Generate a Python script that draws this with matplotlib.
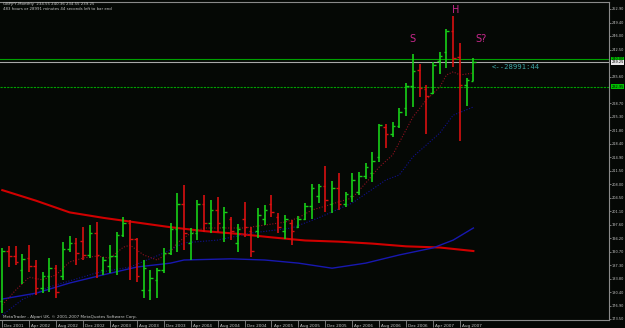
import numpy as np
import matplotlib
matplotlib.use("Agg")
import matplotlib.pyplot as plt
import matplotlib.transforms as mtransforms

# monthly GBPJPY bars, Dec 2001 .. Oct 2007
opens = [178.0, 190.9, 189.5, 186.0, 189.0, 187.0, 181.5, 184.5, 186.5, 184.5,
         191.5, 193.0, 193.5, 190.0, 195.5, 186.0, 187.0, 189.5, 195.0, 198.0,
         194.0, 181.0, 181.0, 183.5, 186.0, 190.5, 196.5, 203.0, 193.0, 195.5,
         203.0, 198.0, 201.5, 197.0, 199.0, 193.0, 199.0, 196.0, 196.0, 199.0,
         203.0, 199.5, 196.0, 198.0, 197.0, 199.0, 202.5, 205.0, 207.5, 203.0,
         207.0, 203.0, 205.0, 206.0, 210.0, 211.0, 215.0, 222.7, 221.0, 223.0,
         227.5, 233.2, 237.3, 232.4, 231.4, 239.5, 241.9, 247.3, 240.6, 233.4,
         234.55]
highs = [191.7, 192.2, 192.2, 190.1, 192.4, 188.6, 185.5, 189.1, 187.3, 193.2,
         194.7, 194.2, 197.0, 197.6, 198.3, 189.4, 192.4, 195.8, 199.6, 198.8,
         194.2, 188.6, 186.0, 186.5, 191.7, 198.1, 205.8, 207.8, 196.8, 204.0,
         205.3, 204.0, 204.7, 202.2, 199.6, 197.8, 203.5, 197.0, 201.9, 202.7,
         205.3, 200.6, 200.1, 198.8, 199.9, 203.2, 208.1, 208.1, 212.7, 208.8,
         210.9, 206.0, 210.9, 211.1, 213.4, 216.3, 223.4, 223.4, 224.0, 227.5,
         233.9, 241.4, 238.8, 233.4, 239.3, 241.9, 247.8, 251.1, 244.2, 235.2,
         240.36]
lows = [175.0, 186.8, 187.3, 182.5, 185.5, 179.6, 180.1, 180.4, 178.9, 183.5,
        190.7, 187.3, 188.6, 189.1, 184.0, 184.8, 185.3, 184.8, 194.5, 183.5,
        183.0, 178.9, 178.4, 178.9, 185.3, 189.9, 190.7, 191.2, 188.6, 193.7,
        195.8, 195.5, 195.8, 193.2, 193.7, 190.7, 194.5, 189.4, 194.2, 197.6,
        199.6, 195.5, 194.0, 192.4, 196.8, 198.8, 199.1, 203.2, 200.9, 200.6,
        201.4, 202.2, 203.5, 205.3, 209.3, 208.6, 213.7, 217.3, 220.1, 222.4,
        225.5, 227.8, 230.4, 220.9, 231.1, 236.2, 237.8, 238.0, 219.1, 228.0,
        234.55]
closes = [190.9, 189.5, 188.0, 188.8, 187.0, 181.5, 184.5, 186.5, 180.5, 191.5,
          193.0, 190.5, 190.0, 195.5, 190.0, 188.5, 189.5, 195.0, 198.0, 194.0,
          184.5, 186.5, 184.0, 186.0, 190.5, 196.5, 203.0, 195.5, 195.5, 203.0,
          198.0, 201.5, 198.0, 201.0, 196.0, 196.5, 197.0, 191.0, 200.0, 201.5,
          201.0, 197.0, 199.0, 196.0, 199.0, 202.5, 207.0, 207.5, 204.0, 207.0,
          203.0, 205.5, 209.0, 210.0, 212.5, 214.0, 223.2, 221.0, 223.0, 226.5,
          233.2, 237.0, 232.7, 230.5, 238.6, 240.8, 247.3, 240.3, 233.4, 234.7,
          239.25]

# moving averages (bar index, price)
ma_long_idx = [0, 5, 10, 15, 20, 25, 30, 35, 40, 45, 50, 55, 60, 65, 70]
ma_long = [206.5, 203.8, 200.8, 199.4, 198.2, 197.0, 196.0, 195.3, 194.4,
           193.6, 193.3, 192.8, 192.1, 191.8, 190.9]
ma_slow_idx = [0, 5, 10, 15, 20, 25, 27, 34, 39, 44, 49, 54, 59, 64, 67, 70]
ma_slow = [178.6, 180.1, 182.7, 184.8, 186.8, 187.8, 188.6, 188.9, 188.6,
           187.8, 186.5, 187.8, 189.9, 191.7, 193.7, 196.8]
ma_mid_idx = [0, 3, 7, 14, 19, 24, 27, 32, 37, 43, 47, 52, 57, 59, 61, 65, 67, 70]
ma_mid = [174.5, 178.5, 181.7, 185.3, 186.8, 190.4, 193.0, 193.7, 195.5,
          196.8, 199.4, 203.2, 209.1, 210.4, 215.0, 221.1, 225.7, 227.8]
ma_fast_idx = [0, 2, 4, 6, 8, 10, 12, 14, 16, 18, 19, 21, 23, 25, 26, 28, 30,
               33, 36, 40, 42, 44, 46, 48, 50, 52, 54, 56, 58, 61, 63, 65, 66,
               67, 68, 70]
ma_fast = [177.1, 180.9, 184.2, 183.5, 184.8, 188.1, 189.1, 189.6, 189.1,
           191.9, 192.4, 189.9, 188.6, 190.7, 193.0, 195.5, 196.8, 196.8,
           196.8, 197.8, 198.3, 199.4, 201.4, 202.4, 203.5, 204.5, 208.3,
           212.4, 215.5, 225.2, 229.6, 232.9, 236.0, 236.8, 236.0, 236.5]

month_labels = ["Dec 2001", "Apr 2002", "Aug 2002", "Dec 2002", "Apr 2003",
                "Aug 2003", "Dec 2003", "Apr 2004", "Aug 2004", "Dec 2004",
                "Apr 2005", "Aug 2005", "Dec 2005", "Apr 2006", "Aug 2006",
                "Dec 2006", "Apr 2007", "Aug 2007"]
price_labels = ["252.90", "249.40", "246.00", "242.50", "235.60", "228.70",
                "225.30", "221.80", "218.40", "214.90", "211.50", "208.00",
                "204.50", "201.10", "197.60", "194.20", "190.70", "187.30",
                "183.80", "180.40", "176.90", "173.50"]

level_hi = 240.00
level_lo = 232.95
bid = 239.25

bg = "#050805"
grey = "#8a8a8a"
txt = "#c8c8c8"
up_col = "#18d018"
dn_col = "#d81010"
pink = "#c8288c"

fig = plt.figure(figsize=(6.25, 3.28), dpi=100)
fig.patch.set_facecolor(bg)
ax = fig.add_axes([0, 8 / 328, 609 / 625, 318.5 / 328])
ax.set_facecolor(bg)

n = len(opens)
x = np.arange(n)
cols = [up_col if c >= o else dn_col for o, c in zip(opens, closes)]

# moving averages first so bars sit on top
ax.plot(ma_long_idx, ma_long, color="#d00000", lw=1.5, zorder=2)
ax.plot(ma_slow_idx, ma_slow, color="#1818b0", lw=1.0, zorder=2)
ax.plot(ma_mid_idx, ma_mid, color="#101090", lw=0.8, ls=(0, (1, 1.5)), zorder=2)
ax.plot(ma_fast_idx, ma_fast, color="#901020", lw=0.8, ls=(0, (1, 1.5)), zorder=2)

ax.vlines(x, lows, highs, colors=cols, lw=1.2, zorder=3)
ax.hlines(opens, x - 0.38, x, colors=cols, lw=1.0, zorder=3)
ax.hlines(closes, x, x + 0.38, colors=cols, lw=1.0, zorder=3)

# levels
ax.axhline(level_hi, color="#00a000", lw=0.8, zorder=1)
ax.axhline(bid, color="#a8a8a8", lw=0.8, zorder=1)
ax.axhline(level_lo, color="#00a000", lw=0.8, ls=(0, (2, 1)), zorder=1)

ax.set_xlim(-0.34, 90.15)
ax.set_ylim(173.23, 254.82)

ax.spines["left"].set_visible(False)
for s in ["top", "right", "bottom"]:
    ax.spines[s].set_color(grey)
    ax.spines[s].set_linewidth(0.8)

# x labels every 4 months
xt = np.arange(0, 4 * len(month_labels), 4)
ax.set_xticks(xt)
ax.set_xticklabels([])
ax.tick_params(axis="x", direction="out", length=5, width=0.6, color=grey)
for xi, lab in zip(xt, month_labels):
    ax.annotate(lab, xy=(xi, 0), xycoords=("data", "axes fraction"),
                xytext=(1.5, -4.3), textcoords="offset points",
                fontsize=3, color=txt, ha="left", va="center")

# price scale on the right
yt = [float(v) for v in price_labels]
ax.yaxis.tick_right()
ax.set_yticks(yt)
ax.set_yticklabels(price_labels, fontsize=2.5, color=txt)
ax.tick_params(axis="y", direction="out", length=1.5, width=0.6, color=grey, pad=0.4)

tr = mtransforms.blended_transform_factory(ax.transAxes, ax.transData)
for val, lab, fc, tc in [(level_hi, "240.00", "#00c000", "#000000"),
                         (bid, "239.25", "#e8e8e8", "#000000"),
                         (level_lo, "232.95", "#00c000", "#000000")]:
    ax.text(1.004, val, lab, transform=tr, fontsize=2.5, color=tc,
            va="center", ha="left",
            bbox=dict(boxstyle="square,pad=0.12", fc=fc, ec="none"))

# header and footer
fig.text(3 / 625, 1 - 4 / 328, "GBPJPY,Monthly  234.55 240.36 234.55 239.25",
         fontsize=2.8, color=txt, va="center", ha="left")
fig.text(3 / 625, 1 - 9 / 328,
         "483 hours or 28991 minutes 44 seconds left to bar end",
         fontsize=2.8, color=txt, va="center", ha="left")
fig.text(3 / 625, 1 - 317 / 328,
         "MetaTrader - Alpari UK, \u00a9 2001-2007 MetaQuotes Software Corp.",
         fontsize=3, color=txt, va="center", ha="left")

# pattern annotations
ax.text(61, 245.1, "S", color=pink, fontsize=7, ha="center", va="center")
ax.text(67.3, 252.6, "H", color=pink, fontsize=7, ha="center", va="center")
ax.text(71.1, 245.3, "S?", color=pink, fontsize=7, ha="center", va="center")
ax.text(72.8, 238.0, "<--28991:44", color="#40a8a8", fontsize=5.2,
        family="DejaVu Sans Mono", ha="left", va="center")

fig.savefig("out.png", dpi=100, facecolor=bg)
